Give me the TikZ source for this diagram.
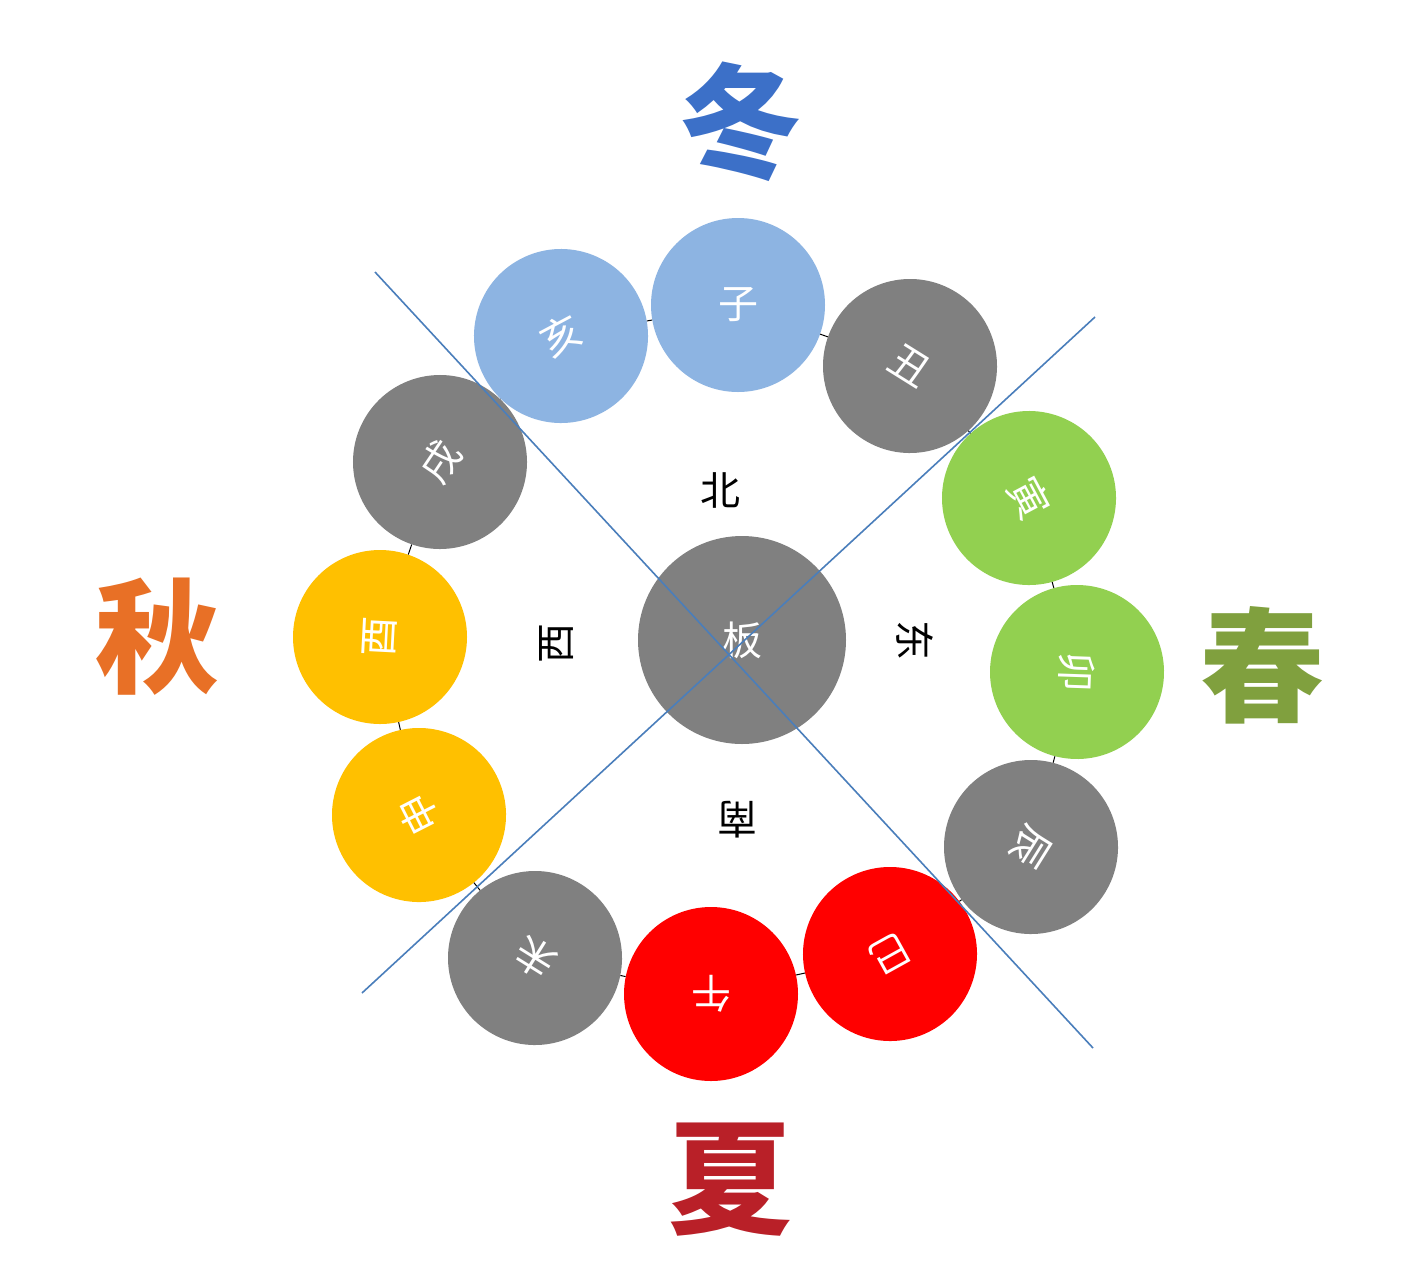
\documentclass[tikz,border=0pt]{standalone}
\usepackage{fontspec}
\newfontfamily\cjk{Noto Sans CJK SC}
\definecolor{cblue}{RGB}{141,180,226}
\definecolor{cgrey}{RGB}{128,128,128}
\definecolor{cgreen}{RGB}{146,208,80}
\definecolor{cyellow}{RGB}{255,192,0}
\definecolor{cred}{RGB}{255,0,0}
\definecolor{diag}{RGB}{74,126,187}
\definecolor{dongc}{RGB}{60,112,200}
\definecolor{chunc}{RGB}{128,160,62}
\definecolor{xiac}{RGB}{185,32,40}
\definecolor{qiuc}{RGB}{232,112,38}
\begin{document}
\begin{tikzpicture}[x=1pt,y=-1pt,
  branch/.style={circle, minimum size=174pt, inner sep=0pt, text=white,
    font=\cjk\fontsize{40}{40}\selectfont},
  dirlabel/.style={font=\cjk\fontsize{40}{40}\selectfont, text=black},
  seasonfont/.style={font=\cjk\bfseries\fontsize{124}{124}\selectfont, inner sep=0pt},
  ring/.style={draw=black, line width=1pt},
  diagline/.style={draw=diag, line width=1.6pt}]
\useasboundingbox (0,0) rectangle (1413,1280);
\fill[white] (0,0) rectangle (1413,1280);

% twelve branches
\node[branch, fill=cblue, rotate=0]      (zi)   at (738,305) {子};
\node[branch, fill=cgrey, rotate=-32]    (chou) at (910,366) {丑};
\node[branch, fill=cgreen, rotate=-62]   (yin)  at (1029,498) {寅};
\node[branch, fill=cgreen, rotate=-92]   (mao)  at (1077,672) {卯};
\node[branch, fill=cgrey, rotate=-122]   (chen) at (1031,847) {辰};
\node[branch, fill=cred, rotate=-151]    (si)   at (890,954) {巳};
\node[branch, fill=cred, rotate=180]     (wu)   at (711,994) {午};
\node[branch, fill=cgrey, rotate=148]    (wei)  at (535,958) {未};
\node[branch, fill=cyellow, rotate=117]  (shen) at (419,815) {申};
\node[branch, fill=cyellow, rotate=87]   (you)  at (380,637) {酉};
\node[branch, fill=cgrey, rotate=56]     (xu)   at (440,462) {戌};
\node[branch, fill=cblue, rotate=28]     (hai)  at (561,336) {亥};

% centre
\node[branch, fill=cgrey, minimum size=208pt] (ji) at (742,640) {板};

% ring connectors
\draw[ring] (zi) -- (chou) -- (yin) -- (mao) -- (chen) -- (si) -- (wu)
  -- (wei) -- (shen) -- (you) -- (xu) -- (hai) -- (zi);

% diagonal lines
\coordinate (d1a) at (375,272);
\coordinate (d1b) at (1093,1048);
\coordinate (d2a) at (1095,317);
\coordinate (d2b) at (362,993);
\draw[diagline] (d1a) -- (d1b);
\draw[diagline] (d2a) -- (d2b);

% directions
\node[dirlabel] (bei)  at (720,490) {北};
\node[dirlabel, rotate=-90] (dong) at (915,640) {东};
\node[dirlabel, rotate=180] (nan)  at (737,820) {南};
\node[dirlabel, rotate=90]  (xi)   at (557,643) {西};

% seasons
\node[seasonfont, text=dongc] (winter) at (740,122) {冬};
\node[seasonfont, text=chunc] (spring) at (1262,665) {春};
\node[seasonfont, text=xiac]  (summer) at (730,1180) {夏};
\node[seasonfont, text=qiuc]  (autumn) at (157,637) {秋};
\end{tikzpicture}
\end{document}
